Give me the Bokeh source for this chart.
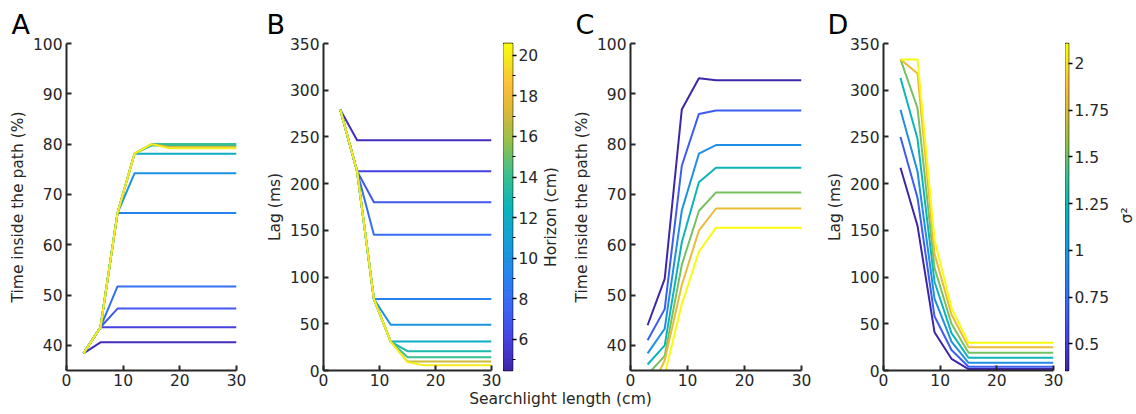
import math
from bokeh.plotting import figure
from bokeh.models import Range1d, FixedTicker, Label, CustomJSTickFormatter
from bokeh.layouts import row, column
from bokeh.embed import file_html
from bokeh.resources import INLINE

# ---------------- data ----------------
searchlight = [3, 6, 9, 12, 15, 18, 21, 24, 27, 30]

horizons = [5, 6, 7, 8, 9, 10, 12, 13, 14, 17, 20]
horizon_range = [4.47, 20.58]

time_A = [
    [38.4, 40.6, 40.6, 40.6, 40.6, 40.6, 40.6, 40.6, 40.6, 40.6],
    [38.4, 43.6, 43.6, 43.6, 43.6, 43.6, 43.6, 43.6, 43.6, 43.6],
    [38.4, 43.6, 47.3, 47.3, 47.3, 47.3, 47.3, 47.3, 47.3, 47.3],
    [38.4, 43.6, 51.7, 51.7, 51.7, 51.7, 51.7, 51.7, 51.7, 51.7],
    [38.4, 43.6, 66.3, 66.3, 66.3, 66.3, 66.3, 66.3, 66.3, 66.3],
    [38.4, 43.6, 66.3, 74.2, 74.2, 74.2, 74.2, 74.2, 74.2, 74.2],
    [38.4, 43.6, 66.3, 78.1, 78.1, 78.1, 78.1, 78.1, 78.1, 78.1],
    [38.4, 43.6, 66.3, 78.1, 79.7, 79.7, 79.7, 79.7, 79.7, 79.7],
    [38.4, 43.6, 66.3, 78.1, 80.0, 80.0, 80.0, 80.0, 80.0, 80.0],
    [38.4, 43.6, 66.3, 78.1, 80.0, 79.5, 79.5, 79.5, 79.5, 79.5],
    [38.4, 43.6, 66.3, 78.1, 80.0, 79.2, 79.2, 79.2, 79.2, 79.2],
]

lag_B = [
    [279, 246.4, 246.4, 246.4, 246.4, 246.4, 246.4, 246.4, 246.4, 246.4],
    [279, 213.2, 213.2, 213.2, 213.2, 213.2, 213.2, 213.2, 213.2, 213.2],
    [279, 213.2, 180.0, 180.0, 180.0, 180.0, 180.0, 180.0, 180.0, 180.0],
    [279, 213.2, 145.4, 145.4, 145.4, 145.4, 145.4, 145.4, 145.4, 145.4],
    [279, 213.2, 76.5, 76.5, 76.5, 76.5, 76.5, 76.5, 76.5, 76.5],
    [279, 213.2, 76.5, 49.0, 49.0, 49.0, 49.0, 49.0, 49.0, 49.0],
    [279, 213.2, 76.5, 31.0, 31.0, 31.0, 31.0, 31.0, 31.0, 31.0],
    [279, 213.2, 76.5, 31.0, 20.7, 20.7, 20.7, 20.7, 20.7, 20.7],
    [279, 213.2, 76.5, 31.0, 14.3, 14.3, 14.3, 14.3, 14.3, 14.3],
    [279, 213.2, 76.5, 31.0, 9.5, 9.5, 9.5, 9.5, 9.5, 9.5],
    [279, 213.2, 76.5, 31.0, 9.0, 5.5, 5.5, 5.5, 5.5, 5.5],
]

sigma2 = [0.5, 0.75, 1.0, 1.25, 1.5, 1.75, 2.0]
sigma2_range = [0.357, 2.107]
sigma2_ticks = [0.5, 0.75, 1.0, 1.25, 1.5, 1.75, 2.0]

time_C = [
    [44.0, 53.2, 86.9, 93.1, 92.7, 92.7, 92.7, 92.7, 92.7, 92.7],
    [41.0, 47.2, 75.7, 86.0, 86.7, 86.7, 86.7, 86.7, 86.7, 86.7],
    [38.4, 43.3, 66.8, 78.1, 79.8, 79.8, 79.8, 79.8, 79.8, 79.8],
    [36.2, 40.0, 60.5, 72.4, 75.3, 75.3, 75.3, 75.3, 75.3, 75.3],
    [34.2, 37.9, 56.0, 66.7, 70.4, 70.4, 70.4, 70.4, 70.4, 70.4],
    [30.0, 37.0, 52.0, 62.8, 67.2, 67.2, 67.2, 67.2, 67.2, 67.2],
    [28.5, 34.1, 48.2, 58.6, 63.4, 63.4, 63.4, 63.4, 63.4, 63.4],
]

lag_D = [
    [217, 155, 41, 12.5, 1.5, 1.5, 1.5, 1.5, 1.5, 1.5],
    [250, 185, 58, 22, 4.0, 4.0, 4.0, 4.0, 4.0, 4.0],
    [279, 213, 77, 31, 8.2, 8.2, 8.2, 8.2, 8.2, 8.2],
    [313, 248, 95, 40, 13.6, 13.6, 13.6, 13.6, 13.6, 13.6],
    [333, 281, 110, 50, 19.0, 19.0, 19.0, 19.0, 19.0, 19.0],
    [333, 318, 125, 60, 25.0, 25.0, 25.0, 25.0, 25.0, 25.0],
    [333, 333, 140, 67, 29.6, 29.6, 29.6, 29.6, 29.6, 29.6],
]

x_ticks = [0, 10, 20, 30]
time_ticks = [40, 50, 60, 70, 80, 90, 100]
lag_ticks = [0, 50, 100, 150, 200, 250, 300, 350]
horizon_ticks = [6, 8, 10, 12, 14, 16, 18, 20]
horizon_minor = [5, 7, 9, 11, 13, 15, 17, 19]

# ---------------- style ----------------
FONT = "DejaVu Sans"
INK = "#262626"
H = 390          # height of panel figures
TOP = 43         # frame top
BOT = 20         # bottom border
anchors = [
    (0.00, (62, 38, 168)), (0.10, (71, 68, 228)), (0.20, (58, 104, 246)),
    (0.30, (36, 135, 236)), (0.40, (20, 160, 214)), (0.50, (12, 180, 186)),
    (0.60, (58, 192, 142)), (0.70, (148, 192, 76)), (0.80, (222, 185, 56)),
    (0.88, (252, 192, 58)), (0.95, (245, 230, 30)), (1.00, (249, 251, 14)),
]


def interp(t):
    t = min(max(t, 0.0), 1.0)
    for (t0, c0), (t1, c1) in zip(anchors[:-1], anchors[1:]):
        if t <= t1:
            f = (t - t0) / (t1 - t0) if t1 > t0 else 0
            return "#%02x%02x%02x" % tuple(int(round(a + (b - a) * f)) for a, b in zip(c0, c1))
    return "#%02x%02x%02x" % anchors[-1][1]


palette = [interp(i / 255) for i in range(256)]


def cmap(v, lo, hi):
    return palette[int(round((v - lo) / (hi - lo) * 255))]


def style_axis(ax):
    ax.axis_line_width = 2
    ax.axis_line_color = INK
    ax.major_tick_in = 5
    ax.major_tick_out = 0
    ax.major_tick_line_width = 2
    ax.major_tick_line_color = INK
    ax.minor_tick_line_color = None
    ax.major_label_text_font = FONT
    ax.major_label_text_font_size = "15.5px"
    ax.major_label_text_color = INK
    ax.axis_label_text_font = FONT
    ax.axis_label_text_font_size = "15.5px"
    ax.axis_label_text_font_style = "normal"
    ax.axis_label_text_color = INK


def make_fig(width, left, right, yr, yticks, ylabel, letter, letter_x):
    p = figure(width=width, height=H, x_range=Range1d(0, 30), y_range=Range1d(*yr),
               output_backend="svg", toolbar_location=None,
               min_border_left=left, min_border_right=right,
               min_border_top=TOP, min_border_bottom=BOT)
    p.outline_line_color = None
    p.grid.visible = False
    p.xaxis.ticker = FixedTicker(ticks=x_ticks)
    p.yaxis.ticker = FixedTicker(ticks=yticks)
    p.yaxis.axis_label = ylabel
    style_axis(p.xaxis[0])
    style_axis(p.yaxis[0])
    p.xaxis.major_label_standoff = 3
    p.yaxis.major_label_standoff = 4
    p.yaxis.axis_label_standoff = 3
    p.title.text = letter
    p.title.align = "left"
    p.title.offset = letter_x - left
    p.title.text_font = FONT
    p.title.text_font_size = "27px"
    p.title.text_font_style = "normal"
    p.title.text_color = "black"
    p.title.vertical_align = "bottom"
    p.title.standoff = 8
    return p


def cbar_fig(bar_w, right, lo, hi, ticks, minor, formatter=None):
    p = figure(width=bar_w + right, height=H, x_range=Range1d(0, 1), y_range=Range1d(lo, hi),
               output_backend="svg", toolbar_location=None, x_axis_location=None,
               y_axis_location="right", min_border_left=0, min_border_right=right,
               min_border_top=TOP, min_border_bottom=BOT)
    p.grid.visible = False
    n = len(palette)
    step = (hi - lo) / n
    bottoms = [lo + i * step for i in range(n)]
    tops = [lo + (i + 1) * step for i in range(n)]
    p.quad(left=0, right=1, bottom=bottoms, top=tops, fill_color=palette,
           line_color=palette, line_width=1)
    p.outline_line_color = "black"
    p.outline_line_width = 1.5
    ax = p.yaxis[0]
    ax.ticker = FixedTicker(ticks=ticks, minor_ticks=minor)
    ax.axis_line_color = None
    ax.major_tick_in = 0
    ax.major_tick_out = 4
    ax.major_tick_line_color = "black"
    ax.major_tick_line_width = 1.5
    ax.minor_tick_in = 0
    ax.minor_tick_out = 3 if minor else 0
    ax.minor_tick_line_color = "black" if minor else None
    ax.minor_tick_line_width = 1.2
    ax.major_label_standoff = 2
    ax.major_label_text_font = FONT
    ax.major_label_text_font_size = "15.5px"
    ax.major_label_text_color = INK
    if formatter is not None:
        ax.formatter = formatter
    return p


def text_fig(width, x, y, txt):
    p = figure(width=width, height=H, x_range=Range1d(0, width), y_range=Range1d(0, H),
               output_backend="svg", toolbar_location=None, min_border=0,
               x_axis_location=None, y_axis_location=None)
    p.outline_line_color = None
    p.grid.visible = False
    p.add_layout(Label(x=x, y=H - y, text=txt, angle=math.pi / 2, text_align="center",
                       text_baseline="middle", text_font=FONT, text_font_size="15.5px",
                       text_color=INK))
    return p


# Panel A  (page x 0..262)
pA = make_fig(262, 66, 26, (35, 100), time_ticks, "Time inside the path (%)", "A", 11)
for h, ys in zip(horizons, time_A):
    pA.line(searchlight, ys, line_width=2, line_color=cmap(h, *horizon_range), line_join="round")

# Panel B  (page x 262..503) + colorbar (503..541) + title (541..560)
pB = make_fig(241, 60, 12, (0, 350), lag_ticks, "Lag (ms)", "B", 3)
for h, ys in zip(horizons, lag_B):
    pB.line(searchlight, ys, line_width=2, line_color=cmap(h, *horizon_range), line_join="round")
cbB = cbar_fig(12, 26, horizon_range[0], horizon_range[1], horizon_ticks, horizon_minor)
tB = text_fig(19, 9, 207, "Horizon (cm)")

# Panel C  (page x 560..822)
pC = make_fig(262, 70, 21, (35, 100), time_ticks, "Time inside the path (%)", "C", 15)
n_s = len(sigma2)
for i, ys in enumerate(time_C):
    pC.line(searchlight, ys, line_width=2, line_color=interp(i / (n_s - 1)), line_join="round")

# Panel D  (page x 822..1065) + colorbar (1065..1112) + title (1112..1136)
pD = make_fig(243, 61, 12, (0, 350), lag_ticks, "Lag (ms)", "D", 5)
for i, ys in enumerate(lag_D):
    pD.line(searchlight, ys, line_width=2, line_color=interp(i / (n_s - 1)), line_join="round")
cbD = cbar_fig(11, 36, sigma2_range[0], sigma2_range[1], sigma2_ticks, [],
               CustomJSTickFormatter(code="return tick.toString();"))
tD = text_fig(24, 14, 205, "σ²")

# shared x label
pT = figure(width=1136, height=24, x_range=Range1d(0, 1136), y_range=Range1d(0, 24),
            output_backend="svg", toolbar_location=None, min_border=0,
            x_axis_location=None, y_axis_location=None)
pT.outline_line_color = None
pT.grid.visible = False
pT.add_layout(Label(x=560, y=16, text="Searchlight length (cm)", text_align="center",
                    text_baseline="middle", text_font=FONT, text_font_size="15.5px",
                    text_color=INK))

layout = column(row(pA, pB, cbB, tB, pC, pD, cbD, tD), pT)
open("out.html", "w").write(file_html(layout, INLINE))
